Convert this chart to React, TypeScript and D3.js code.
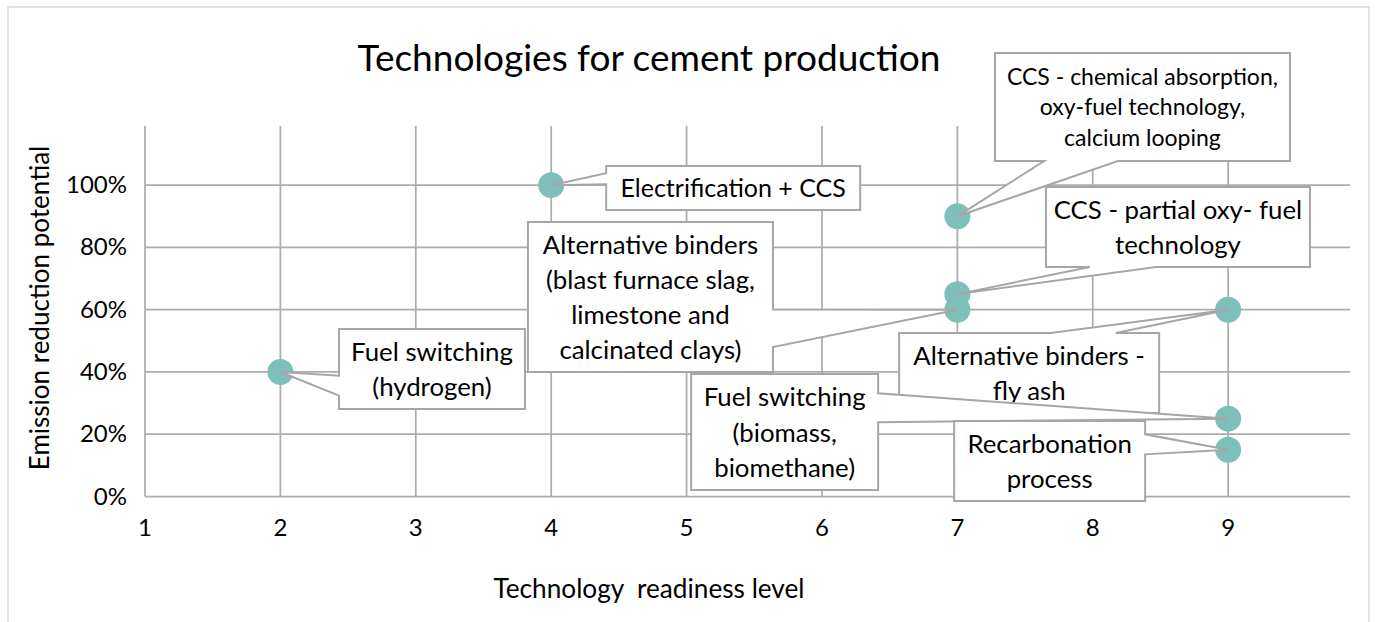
import React from "react";
import * as d3 from "d3";

// ---------- data ----------
const trl: number[] = [2, 4, 7, 7, 7, 9, 9, 9];
const reduction: number[] = [0.4, 1.0, 0.9, 0.65, 0.6, 0.6, 0.25, 0.15];
const labels: string[][] = [
  ["Fuel switching", "(hydrogen)"],
  ["Electrification + CCS"],
  ["CCS - chemical absorption,", "oxy-fuel technology,", "calcium looping"],
  ["CCS - partial oxy- fuel", "technology"],
  ["Alternative binders", "(blast furnace slag,", "limestone and", "calcinated clays)"],
  ["Alternative binders -", "fly ash"],
  ["Fuel switching", "(biomass,", "biomethane)"],
  ["Recarbonation", "process"],
];
const xTicks: number[] = [1, 2, 3, 4, 5, 6, 7, 8, 9];
const yTicks: number[] = [0, 0.2, 0.4, 0.6, 0.8, 1.0];
const title = "Technologies for cement production";
const xTitle = "Technology  readiness level";
const yTitle = "Emission reduction potential";

// ---------- layout (label boxes relative to their point, in px) ----------
const labelBoxes = [
  { dx: 58.6, dy: -43, w: 186, h: 80, fs: 25.8, lh: 35 },
  { dx: 55, dy: -19.2, w: 254, h: 44, fs: 25, lh: 35 },
  { dx: 37.6, dy: -163.3, w: 295, h: 108, fs: 23, lh: 30.5 },
  { dx: 88.6, dy: -107.2, w: 264, h: 80, fs: 25.8, lh: 35 },
  { dx: -429.4, dy: -87.7, w: 245, h: 150, fs: 25.8, lh: 35.3 },
  { dx: -329, dy: 23.3, w: 260, h: 80, fs: 25.8, lh: 35 },
  { dx: -537, dy: -44.7, w: 187, h: 116, fs: 25.8, lh: 35.5 },
  { dx: -274, dy: -28.8, w: 191, h: 80, fs: 25.8, lh: 35 },
];

const W = 1375;
const H = 622;
const FONT = "Lato, Carlito, 'Open Sans', sans-serif";
const GRID = "#ADADAD";
const BORDER = "#A6A6A6";
const MARK = "#7FBFBA";

const x = d3.scaleLinear().domain([1, 9.9]).range([145, 1350]);
const y = d3.scaleLinear().domain([0, 1.19]).range([496.5, 126]);

// Excel-like wedgeRectCallout outline
function calloutPath(bx: number, by: number, w: number, h: number, tx: number, ty: number): string {
  const cx = bx + w / 2;
  const cy = by + h / 2;
  const dxPos = tx - cx;
  const dyPos = ty - cy;
  const horiz = Math.abs(dxPos * h) > Math.abs(dyPos * w);
  const r = bx + w;
  const b = by + h;
  const p = d3.path();
  if (horiz) {
    const y1 = by + (h * (dyPos > 0 ? 7 : 2)) / 12;
    const y2 = by + (h * (dyPos > 0 ? 10 : 5)) / 12;
    p.moveTo(bx, by);
    p.lineTo(r, by);
    if (dxPos > 0) {
      p.lineTo(r, y1);
      p.lineTo(tx, ty);
      p.lineTo(r, y2);
    }
    p.lineTo(r, b);
    p.lineTo(bx, b);
    if (dxPos <= 0) {
      p.lineTo(bx, y2);
      p.lineTo(tx, ty);
      p.lineTo(bx, y1);
    }
    p.closePath();
  } else {
    const x1 = bx + (w * (dxPos > 0 ? 7 : 2)) / 12;
    const x2 = bx + (w * (dxPos > 0 ? 10 : 5)) / 12;
    p.moveTo(bx, by);
    if (dyPos <= 0) {
      p.lineTo(x1, by);
      p.lineTo(tx, ty);
      p.lineTo(x2, by);
    }
    p.lineTo(r, by);
    p.lineTo(r, b);
    if (dyPos > 0) {
      p.lineTo(x2, b);
      p.lineTo(tx, ty);
      p.lineTo(x1, b);
    }
    p.lineTo(bx, b);
    p.closePath();
  }
  return p.toString();
}

export default function App() {
  const pts = trl.map((t, i) => ({ px: x(t), py: y(reduction[i]), lines: labels[i], box: labelBoxes[i] }));
  const pct = d3.format(".0%");
  return (
    <svg
      width={W}
      height={H}
      style={{ position: "absolute", left: 0, top: 0, background: "#fff" }}
      fontFamily={FONT}
    >
      <rect x={0} y={0} width={W} height={H} fill="#fff" />
      <rect x={8} y={7} width={1361} height={700} fill="#fff" stroke="#D9D9D9" strokeWidth={1.5} />

      <text x={649} y={71} textAnchor="middle" fontSize={37} fill="#000">
        {title}
      </text>

      {/* grid */}
      {xTicks.map((t) => (
        <line key={"vx" + t} x1={x(t)} x2={x(t)} y1={y.range()[1]} y2={y(0)} stroke={GRID} strokeWidth={1.75} />
      ))}
      {yTicks.map((t) => (
        <line key={"hy" + t} x1={x.range()[0]} x2={x.range()[1]} y1={y(t)} y2={y(t)} stroke={GRID} strokeWidth={1.75} />
      ))}

      {/* tick labels */}
      {xTicks.map((t) => (
        <text key={"xt" + t} x={x(t)} y={536} textAnchor="middle" fontSize={24} fill="#000">
          {t}
        </text>
      ))}
      {yTicks.map((t) => (
        <text key={"yt" + t} x={127} y={y(t) + 8} textAnchor="end" fontSize={24} fill="#000">
          {pct(t)}
        </text>
      ))}

      <text x={649} y={598} textAnchor="middle" fontSize={26.2} fill="#000" style={{ whiteSpace: "pre" }}>
        {xTitle}
      </text>
      <text transform="translate(49,308) rotate(-90)" textAnchor="middle" fontSize={26} fill="#000">
        {yTitle}
      </text>

      {/* markers */}
      {pts.map((p, i) => (
        <circle key={"m" + i} cx={p.px} cy={p.py} r={13} fill={MARK} />
      ))}

      {/* callouts */}
      {pts.map((p, i) => {
        const bx = p.px + p.box.dx;
        const by = p.py + p.box.dy;
        const cx = bx + p.box.w / 2;
        const cy = by + p.box.h / 2;
        const n = p.lines.length;
        return (
          <g key={"c" + i}>
            <path
              d={calloutPath(bx, by, p.box.w, p.box.h, p.px, p.py)}
              fill="#fff"
              stroke={BORDER}
              strokeWidth={2}
              strokeLinejoin="miter"
            />
            {p.lines.map((ln, j) => (
              <text
                key={j}
                x={cx}
                y={cy + (j - (n - 1) / 2) * p.box.lh + 0.37 * p.box.fs}
                textAnchor="middle"
                fontSize={p.box.fs}
                fill="#000"
              >
                {ln}
              </text>
            ))}
          </g>
        );
      })}
    </svg>
  );
}
